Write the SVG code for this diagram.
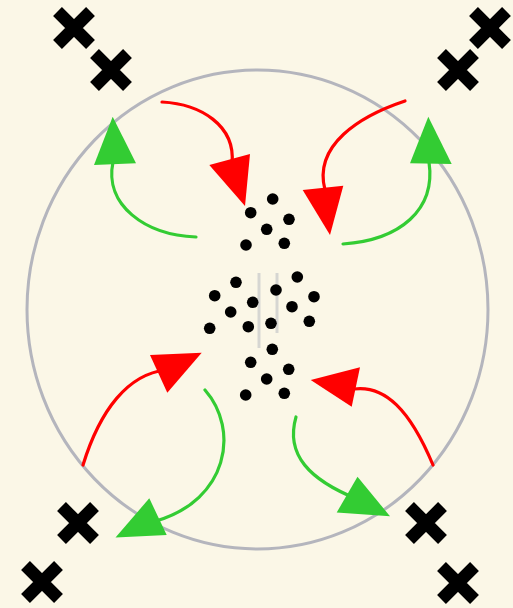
<svg xmlns="http://www.w3.org/2000/svg" width="513" height="608" viewBox="0 0 513 608">
<style>
.bg{fill:#FBF7E7}
.ring{fill:none;stroke:#B4B5BD;stroke-width:3}
.x{stroke:#000;stroke-width:12.5;fill:none}
.dot{fill:#000}
.guide{stroke:#D6D6D2;stroke-width:3}
.red{fill:none;stroke:#FF0000;stroke-width:3.2;stroke-linecap:round}
.grn{fill:none;stroke:#33CC33;stroke-width:3.2;stroke-linecap:round}
.redh{fill:#FF0000}
.grnh{fill:#33CC33}
</style>
<defs>
<path id="cross" d="M-16.5,-16.5L16.5,16.5M16.5,-16.5L-16.5,16.5"/>
</defs>
<rect class="bg" width="513" height="608"/>
<g id="boundary"><ellipse class="ring" cx="257.5" cy="309.5" rx="230.5" ry="239.5"/></g>
<g id="cross-tl-outer"><use href="#cross" class="x" x="74" y="28"/></g>
<g id="cross-tl-inner"><use href="#cross" class="x" x="111" y="70"/></g>
<g id="cross-tr-outer"><use href="#cross" class="x" x="490" y="28"/></g>
<g id="cross-tr-inner"><use href="#cross" class="x" x="458" y="70"/></g>
<g id="cross-bl-inner"><use href="#cross" class="x" x="78" y="523"/></g>
<g id="cross-bl-outer"><use href="#cross" class="x" x="42" y="582"/></g>
<g id="cross-br-inner"><use href="#cross" class="x" x="426" y="523"/></g>
<g id="cross-br-outer"><use href="#cross" class="x" x="458" y="583"/></g>
<g id="guides">
<line class="guide" x1="259" y1="273" x2="259" y2="348"/>
<line class="guide" x1="277" y1="273" x2="277" y2="333"/>
</g>
<g id="cluster-top">
<circle class="dot" cx="272.7" cy="199" r="5.8"/>
<circle class="dot" cx="250.7" cy="212.7" r="5.8"/>
<circle class="dot" cx="289" cy="219.3" r="5.8"/>
<circle class="dot" cx="266.7" cy="229.3" r="5.8"/>
<circle class="dot" cx="246" cy="245" r="5.8"/>
<circle class="dot" cx="284.3" cy="243.3" r="5.8"/>
</g>
<g id="cluster-middle">
<circle class="dot" cx="297.3" cy="277" r="5.8"/>
<circle class="dot" cx="236" cy="282.3" r="5.8"/>
<circle class="dot" cx="276" cy="290" r="5.8"/>
<circle class="dot" cx="214.7" cy="295.7" r="5.8"/>
<circle class="dot" cx="314" cy="296.7" r="5.8"/>
<circle class="dot" cx="252.7" cy="302.3" r="5.8"/>
<circle class="dot" cx="292" cy="306.7" r="5.8"/>
<circle class="dot" cx="230.7" cy="312" r="5.8"/>
<circle class="dot" cx="309.3" cy="321.3" r="5.8"/>
<circle class="dot" cx="209.7" cy="328.3" r="5.8"/>
<circle class="dot" cx="248.3" cy="326.7" r="5.8"/>
<circle class="dot" cx="271" cy="323.3" r="5.8"/>
</g>
<g id="cluster-bottom">
<circle class="dot" cx="272.3" cy="349.3" r="5.8"/>
<circle class="dot" cx="250.7" cy="362.3" r="5.8"/>
<circle class="dot" cx="288.7" cy="369.3" r="5.8"/>
<circle class="dot" cx="266.7" cy="379" r="5.8"/>
<circle class="dot" cx="245.7" cy="395" r="5.8"/>
<circle class="dot" cx="284.3" cy="393.3" r="5.8"/>
</g>
<g id="connectors">
<path class="red" d="M162,102C200,104 236,125 232,164"/>
<polygon class="redh" points="209.3,165 250,154 245,206"/>
<path class="red" d="M405,101C360,116 313,145 325,190"/>
<polygon class="redh" points="302.7,190 343.3,185.7 330,235"/>
<path class="grn" d="M343,244C400,240 436,210 429,162"/>
<polygon class="grnh" points="410,163.3 451.7,164 428.3,116.7"/>
<path class="grn" d="M196,237C145,235 104,205 113,162"/>
<polygon class="grnh" points="94,165 136,163.3 112.7,116.7"/>
<path class="red" d="M83,465C100,410 128,374 166,370"/>
<polygon class="redh" points="150,355 167.3,392.7 201.7,352.7"/>
<path class="grn" d="M205,390C240,430 228,500 156,521"/>
<polygon class="grnh" points="149.3,498.3 166.7,535 115.5,537.5"/>
<path class="red" d="M433,465C410,410 385,385 354,389"/>
<polygon class="redh" points="360,367.3 351.7,406.7 310.7,380"/>
<path class="grn" d="M296,417C285,455 310,480 357,499"/>
<polygon class="grnh" points="357.5,476.7 336.7,512.5 390,516.3"/>
</g>
</svg>
